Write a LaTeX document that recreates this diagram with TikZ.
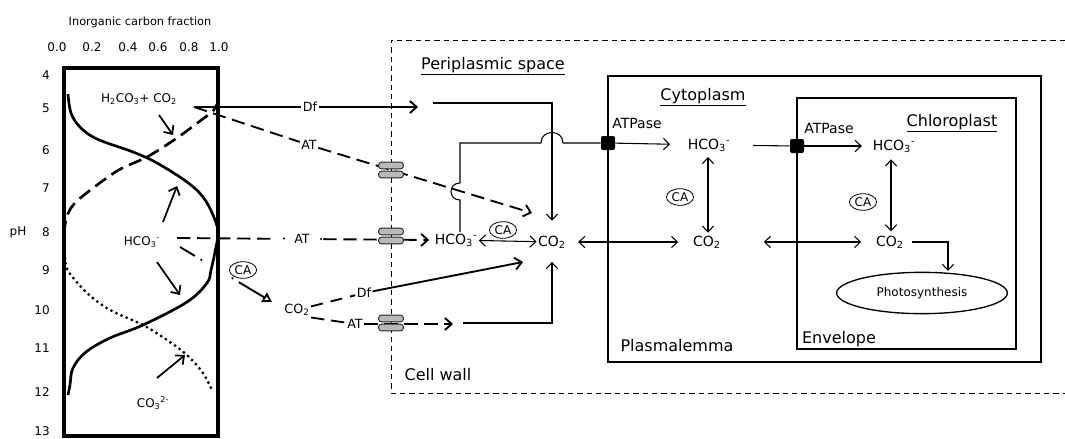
\documentclass[tikz,border=0pt]{standalone}
\usepackage{fontspec}
\setmainfont{DejaVu Sans}
\usetikzlibrary{arrows.meta,shapes.geometric}

\begin{document}
\begin{tikzpicture}[
    x=0.75pt, y=-0.75pt,
    region/.style={font=\fontsize{12}{14}\selectfont, inner sep=1pt},
    species/.style={font=\fontsize{10.5}{12}\selectfont, inner sep=1pt},
    route/.style={font=\fontsize{9.5}{11}\selectfont, inner sep=1pt},
    chartlbl/.style={font=\fontsize{9}{11}\selectfont, inner sep=1pt},
    enzyme/.style={
        ellipse,
        draw,
        line width=0.6pt,
        inner sep=1pt,
        font=\fontsize{9}{10}\selectfont
    },
    pump/.style={fill=black, rounded corners=1.5pt, minimum size=10.5pt, inner sep=0pt},
    pore/.style={
        draw=black!85,
        fill=gray!55,
        line width=0.7pt,
        rounded corners=2pt,
        minimum width=18.5pt,
        minimum height=5pt,
        inner sep=0pt
    },
    photo/.style={ellipse, draw, line width=1pt, minimum width=128pt, minimum height=31pt,
        font=\fontsize{9}{11}\selectfont},
    arr/.style={-{Straight Barb[length=4.5pt,width=8.5pt]}},
    dblarr/.style={{Straight Barb[length=4.5pt,width=8.5pt]}-{Straight Barb[length=4.5pt,width=8.5pt]}},
    boldarr/.style={-{Straight Barb[length=5pt,width=9pt]}},
    atline/.style={line width=1.4pt, dash pattern=on 10pt off 5pt},
    curve/.style={line width=2pt}
]
\useasboundingbox (0,0) rectangle (1065,439);

% Inorganic carbon speciation chart
\node[chartlbl, font=\fontsize{8.5}{10}\selectfont] (axis) at (140,22) {Inorganic carbon fraction};
\foreach \v/\x [count=\i] in {0.0/57, 0.2/92, 0.4/128, 0.6/158, 0.8/189, 1.0/219} {
    \node[chartlbl] (frac\i) at (\x,47) {\v};
}
\foreach \p/\y in {4/75, 5/108, 6/150, 7/188, 8/232, 9/270, 10/310, 11/348, 12/392, 13/431} {
    \node[chartlbl, anchor=east, inner sep=0pt] (ph\p) at (50,\y) {\p};
}
\node[chartlbl] (phaxis) at (18,232) {pH};
\draw[line width=2.3pt] (64,68) rectangle (218,436);

\draw[curve] plot[smooth, tension=0.6] coordinates {
    (68,94) (71,113) (80,127) (97,139) (133,152) (157,163) (187,182) (203,197)
    (213,215) (218,232) (215,252) (211,270) (207,283) (187,302) (143,325)
    (110,338) (86,352) (73,368) (70,385) (68,395)};
\draw[curve, dash pattern=on 10pt off 5pt] plot[smooth] coordinates {
    (64,234) (67,216) (78,200) (117,171) (147,157) (177,138) (200,121) (213,111) (218,102)};
\draw[curve] (219,100) -- (219,81);
\draw[line width=2.4pt, line cap=round, dash pattern=on 0pt off 4.2pt] plot[smooth] coordinates {
    (65,258) (68,271) (87,293) (110,310) (143,325) (167,340) (187,355) (203,373) (213,392)};

\node[chartlbl] (h2co3) at (139,99) {H\textsubscript{2}CO\textsubscript{3}+ CO\textsubscript{2}};
\node[chartlbl] (hco3w) at (142,242) {HCO\textsubscript{3}\textsuperscript{-}};
\node[chartlbl] (co3w) at (153,403) {CO\textsubscript{3}\textsuperscript{2-}};
\coordinate (onco2) at (173,135);
\coordinate (onhcoup) at (177,186);
\coordinate (onhcodn) at (180,295);
\coordinate (onco3) at (185,355);
\draw[line width=1.3pt, boldarr] ([shift={(20,16)}]h2co3.center) -- (onco2);
\draw[line width=1.3pt, boldarr] ([shift={(21,-20)}]hco3w.center) -- (onhcoup);
\draw[line width=1.3pt, boldarr] ([shift={(15,20)}]hco3w.center) -- (onhcodn);
\draw[line width=1.3pt, boldarr] ([shift={(4,-25)}]co3w.center) -- (onco3);

% Cell wall and membranes
\draw[line width=0.7pt, dash pattern=on 4pt off 3pt] (1065,40) -- (391,40) -- (391,393) -- (1065,393);
\draw[line width=1pt] (608,76) rectangle (1041,362);
\draw[line width=1pt] (797,98) rectangle (1016,349);
\node[region] (peri) at (493,66) {\underline{Periplasmic space}};
\node[region] (cyto) at (703,97) {\underline{Cytoplasm}};
\node[region] (chloro) at (952,123) {\underline{Chloroplast}};
\node[region] (plasma) at (677,346) {Plasmalemma};
\node[region] (envel) at (839,339) {Envelope};
\node[region] (wall) at (438,375) {Cell wall};

% Species
\node[species] (pHCO3) at (456,240) {HCO\textsubscript{3}\textsuperscript{-}};
\node[species] (pCO2) at (552,242) {CO\textsubscript{2}};
\node[species] (cHCO3) at (709,145) {HCO\textsubscript{3}\textsuperscript{-}};
\node[species] (cCO2) at (707,242) {CO\textsubscript{2}};
\node[species] (kHCO3) at (894,146) {HCO\textsubscript{3}\textsuperscript{-}};
\node[species] (kCO2) at (890,242) {CO\textsubscript{2}};
\node[photo] (photo) at (922,293) {Photosynthesis};
\node[route] (co2out) at (297,310) {CO\textsubscript{2}};

% Outside routes (Df and AT)
\coordinate (wallout) at (194,107);
\node[route] (dfT) at (310,107) {Df};
\node[route] (atT) at (309,145) {AT};
\node[route] (atM) at (302,239) {AT};
\node[route] (dfL) at (364,293) {Df};
\node[route] (atL) at (355,324) {AT};
\coordinate (dfTend) at (418,107);
\coordinate (dfTin) at (433,103);
\coordinate (atTend) at (532,213);
\coordinate (atMstart) at (177,238);
\coordinate (atMdot1) at (284,238.5);
\coordinate (atMdot2) at (321,239);
\coordinate (caStart) at (180,247);
\coordinate (caEnd) at (272,302);
\coordinate (dfLend) at (523,262);
\coordinate (atLend) at (453,324);
\coordinate (atLin) at (463,323);

\draw[line width=1.4pt] (wallout) -- (dfT);
\draw[line width=1.4pt, boldarr] (dfT) -- (dfTend);
\draw[line width=0.8pt, arr, shorten >=10pt] (dfTin) -| (pCO2.north);
\draw[atline] (wallout) -- (atT);
\draw[atline, boldarr] (atT) -- (atTend);
\draw[atline, shorten >=12pt] (atMstart) -- (atM);
\fill (atMdot1) circle[radius=0.8pt];
\fill (atMdot2) circle[radius=0.8pt];
\draw[atline, boldarr, shorten <=9pt, shorten >=3pt] (atM) -- (pHCO3.west);
\node[enzyme] (caW) at (243,270) {CA};
\draw[line width=1.4pt, -{Triangle[open, length=7pt, width=8pt]},
    dash pattern=on 13pt off 5pt on 1.2pt off 26pt on 1.2pt off 5pt on 30pt] (caStart) -- (caEnd);
\draw[line width=1.4pt, dash pattern=on 9pt off 6pt] (co2out) -- (dfL);
\draw[line width=1.4pt, boldarr] (dfL) -- (dfLend);
\draw[atline] (co2out.south east) -- (atL);
\draw[atline, boldarr] (atL) -- (atLend);
\draw[line width=0.8pt, arr, shorten >=9pt] (atLin) -| (pCO2.south);

% Transporters in the cell wall
\foreach \n/\y in {1/170, 2/236, 3/323} {
    \node[pore] (pore\n u) at (391,\y-4.5) {};
    \node[pore] (pore\n d) at (391,\y+4.5) {};
}

% Periplasm to cytoplasm
\node[enzyme] (caP) at (503,230) {CA};
\draw[line width=0.8pt, dblarr] (pHCO3) -- (pCO2);
\node[pump] (atp1) at (608,143) {};
\node[species] (atpLbl1) at (637,123) {ATPase};
\draw[line width=0.8pt] ([xshift=3pt]pHCO3.north) -- (460,200)
    .. controls (448,200) and (448,183) .. (460,183) -- (460,143) -- (541,143)
    .. controls (541,129) and (563,129) .. (563,143) -- (atp1);
\draw[line width=0.8pt, arr, shorten >=12pt] (atp1) -- (cHCO3);
\draw[line width=0.8pt, dblarr, shorten <=8pt, shorten >=10pt] (pCO2) -- (cCO2);

% Cytoplasm
\node[enzyme] (caC) at (680,197) {CA};
\draw[line width=0.8pt, dblarr, shorten <=3pt, shorten >=1pt] (cHCO3.south -| 708,0) -- (cCO2.north -| 708,0);
\node[pump] (atp2) at (797,146) {};
\node[species] (atpLbl2) at (829,128) {ATPase};
\draw[line width=0.8pt, shorten <=16pt] (cHCO3) -- (atp2);
\draw[line width=0.8pt, arr, shorten >=7pt] (atp2) -- (kHCO3);
\draw[line width=0.8pt, dblarr, shorten <=31pt, shorten >=10pt] (cCO2) -- (kCO2);

% Chloroplast
\node[enzyme] (caK) at (863,202) {CA};
\draw[line width=0.8pt, dblarr, shorten <=4pt, shorten >=2pt] (kHCO3.south -| 891,0) -- (kCO2.north -| 891,0);
\coordinate (photoIn) at (948,271);
\draw[line width=0.8pt, arr, shorten <=5pt] (kCO2) -| (photoIn);
\end{tikzpicture}
\end{document}
